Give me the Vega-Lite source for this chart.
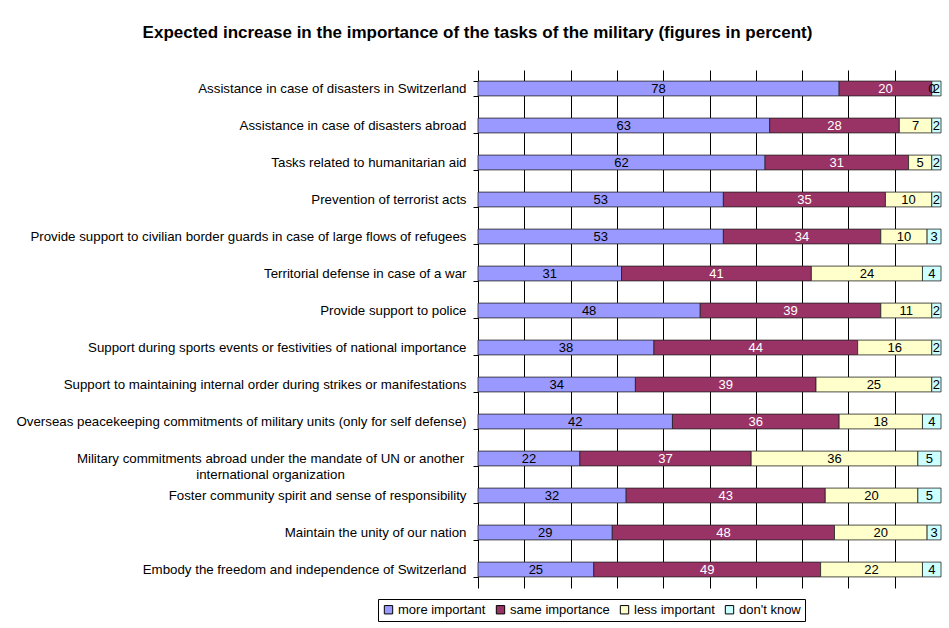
{
  "$schema": "https://vega.github.io/schema/vega-lite/v6.json",
  "width": 463,
  "height": 518,
  "autosize": {"type": "none"},
  "padding": {"left": 478, "top": 70, "right": 8, "bottom": 40},
  "background": "white",
  "title": {
    "text": "Expected increase in the importance of the tasks of the military (figures in percent)",
    "font": "Liberation Sans",
    "fontSize": 17,
    "fontWeight": "bold",
    "color": "black",
    "anchor": "middle",
    "dx": -232,
    "offset": 21
  },
  "config": {"view": {"stroke": null}, "font": "Liberation Sans"},
  "data": {
    "values": [
      {"task": "Assistance in case of disasters in Switzerland", "series": "more important", "rank": 1, "pct": 78},
      {"task": "Assistance in case of disasters in Switzerland", "series": "same importance", "rank": 2, "pct": 20},
      {"task": "Assistance in case of disasters in Switzerland", "series": "less important", "rank": 3, "pct": 0},
      {"task": "Assistance in case of disasters in Switzerland", "series": "don't know", "rank": 4, "pct": 2},
      {"task": "Assistance in case of disasters abroad", "series": "more important", "rank": 1, "pct": 63},
      {"task": "Assistance in case of disasters abroad", "series": "same importance", "rank": 2, "pct": 28},
      {"task": "Assistance in case of disasters abroad", "series": "less important", "rank": 3, "pct": 7},
      {"task": "Assistance in case of disasters abroad", "series": "don't know", "rank": 4, "pct": 2},
      {"task": "Tasks related to humanitarian aid", "series": "more important", "rank": 1, "pct": 62},
      {"task": "Tasks related to humanitarian aid", "series": "same importance", "rank": 2, "pct": 31},
      {"task": "Tasks related to humanitarian aid", "series": "less important", "rank": 3, "pct": 5},
      {"task": "Tasks related to humanitarian aid", "series": "don't know", "rank": 4, "pct": 2},
      {"task": "Prevention of terrorist acts", "series": "more important", "rank": 1, "pct": 53},
      {"task": "Prevention of terrorist acts", "series": "same importance", "rank": 2, "pct": 35},
      {"task": "Prevention of terrorist acts", "series": "less important", "rank": 3, "pct": 10},
      {"task": "Prevention of terrorist acts", "series": "don't know", "rank": 4, "pct": 2},
      {"task": "Provide support to civilian border guards in case of large flows of refugees", "series": "more important", "rank": 1, "pct": 53},
      {"task": "Provide support to civilian border guards in case of large flows of refugees", "series": "same importance", "rank": 2, "pct": 34},
      {"task": "Provide support to civilian border guards in case of large flows of refugees", "series": "less important", "rank": 3, "pct": 10},
      {"task": "Provide support to civilian border guards in case of large flows of refugees", "series": "don't know", "rank": 4, "pct": 3},
      {"task": "Territorial defense in case of a war", "series": "more important", "rank": 1, "pct": 31},
      {"task": "Territorial defense in case of a war", "series": "same importance", "rank": 2, "pct": 41},
      {"task": "Territorial defense in case of a war", "series": "less important", "rank": 3, "pct": 24},
      {"task": "Territorial defense in case of a war", "series": "don't know", "rank": 4, "pct": 4},
      {"task": "Provide support to police", "series": "more important", "rank": 1, "pct": 48},
      {"task": "Provide support to police", "series": "same importance", "rank": 2, "pct": 39},
      {"task": "Provide support to police", "series": "less important", "rank": 3, "pct": 11},
      {"task": "Provide support to police", "series": "don't know", "rank": 4, "pct": 2},
      {"task": "Support during sports events or festivities of national importance", "series": "more important", "rank": 1, "pct": 38},
      {"task": "Support during sports events or festivities of national importance", "series": "same importance", "rank": 2, "pct": 44},
      {"task": "Support during sports events or festivities of national importance", "series": "less important", "rank": 3, "pct": 16},
      {"task": "Support during sports events or festivities of national importance", "series": "don't know", "rank": 4, "pct": 2},
      {"task": "Support to maintaining internal order during strikes or manifestations", "series": "more important", "rank": 1, "pct": 34},
      {"task": "Support to maintaining internal order during strikes or manifestations", "series": "same importance", "rank": 2, "pct": 39},
      {"task": "Support to maintaining internal order during strikes or manifestations", "series": "less important", "rank": 3, "pct": 25},
      {"task": "Support to maintaining internal order during strikes or manifestations", "series": "don't know", "rank": 4, "pct": 2},
      {"task": "Overseas peacekeeping commitments of military units (only for self defense)", "series": "more important", "rank": 1, "pct": 42},
      {"task": "Overseas peacekeeping commitments of military units (only for self defense)", "series": "same importance", "rank": 2, "pct": 36},
      {"task": "Overseas peacekeeping commitments of military units (only for self defense)", "series": "less important", "rank": 3, "pct": 18},
      {"task": "Overseas peacekeeping commitments of military units (only for self defense)", "series": "don't know", "rank": 4, "pct": 4},
      {"task": "Military commitments abroad under the mandate of UN or another international organization", "series": "more important", "rank": 1, "pct": 22},
      {"task": "Military commitments abroad under the mandate of UN or another international organization", "series": "same importance", "rank": 2, "pct": 37},
      {"task": "Military commitments abroad under the mandate of UN or another international organization", "series": "less important", "rank": 3, "pct": 36},
      {"task": "Military commitments abroad under the mandate of UN or another international organization", "series": "don't know", "rank": 4, "pct": 5},
      {"task": "Foster community spirit and sense of responsibility", "series": "more important", "rank": 1, "pct": 32},
      {"task": "Foster community spirit and sense of responsibility", "series": "same importance", "rank": 2, "pct": 43},
      {"task": "Foster community spirit and sense of responsibility", "series": "less important", "rank": 3, "pct": 20},
      {"task": "Foster community spirit and sense of responsibility", "series": "don't know", "rank": 4, "pct": 5},
      {"task": "Maintain the unity of our nation", "series": "more important", "rank": 1, "pct": 29},
      {"task": "Maintain the unity of our nation", "series": "same importance", "rank": 2, "pct": 48},
      {"task": "Maintain the unity of our nation", "series": "less important", "rank": 3, "pct": 20},
      {"task": "Maintain the unity of our nation", "series": "don't know", "rank": 4, "pct": 3},
      {"task": "Embody the freedom and independence of Switzerland", "series": "more important", "rank": 1, "pct": 25},
      {"task": "Embody the freedom and independence of Switzerland", "series": "same importance", "rank": 2, "pct": 49},
      {"task": "Embody the freedom and independence of Switzerland", "series": "less important", "rank": 3, "pct": 22},
      {"task": "Embody the freedom and independence of Switzerland", "series": "don't know", "rank": 4, "pct": 4}
    ]
  },
  "encoding": {
    "y": {
      "field": "task",
      "type": "nominal",
      "sort": null,
      "scale": {"paddingInner": 0.6, "paddingOuter": 0.3},
      "axis": {
        "title": null,
        "domainColor": "black",
        "tickColor": "black",
        "tickSize": 5,
        "tickBand": "extent",
        "labelColor": "black",
        "labelFont": "Liberation Sans",
        "labelFontSize": 13.3,
        "labelLimit": 0,
        "labelLineHeight": 16,
        "labelPadding": {"condition": {"test": "datum.value == 'Military commitments abroad under the mandate of UN or another international organization'", "value": 203}, "value": 7},
        "labelAlign": {"condition": {"test": "datum.value == 'Military commitments abroad under the mandate of UN or another international organization'", "value": "center"}, "value": "right"},
        "labelExpr": "datum.label == 'Military commitments abroad under the mandate of UN or another international organization' ? ['Military commitments abroad under the mandate of UN or another', 'international organization'] : datum.label"
      }
    },
    "order": {"field": "rank", "type": "quantitative", "sort": "ascending"}
  },
  "layer": [
    {
      "mark": {"type": "bar", "stroke": "#222222", "strokeWidth": 0.8},
      "encoding": {
        "x": {
          "field": "pct",
          "type": "quantitative",
          "stack": "zero",
          "scale": {"domain": [0, 100], "nice": false},
          "axis": {
            "title": null,
            "labels": false,
            "ticks": false,
            "domain": false,
            "grid": true,
            "gridColor": "black",
            "gridWidth": 1,
            "values": [10, 20, 30, 40, 50, 60, 70, 80, 90]
          }
        },
        "color": {
          "field": "series",
          "type": "nominal",
          "sort": ["more important", "same importance", "less important", "don't know"],
          "scale": {
            "domain": ["more important", "same importance", "less important", "don't know"],
            "range": ["#9999FF", "#993366", "#FFFFCC", "#CCFFFF"]
          },
          "legend": {
            "title": null,
            "orient": "none",
            "legendX": -100,
            "legendY": 529,
            "direction": "horizontal",
            "symbolType": "square",
            "symbolSize": 70,
            "symbolStrokeColor": "black",
            "symbolStrokeWidth": 1,
            "labelFont": "Liberation Sans",
            "labelFontSize": 13,
            "labelColor": "black",
            "labelOffset": 3,
            "columnPadding": 8,
            "strokeColor": "black",
            "padding": 4
          }
        }
      }
    },
    {
      "mark": {"type": "text", "font": "Liberation Sans", "fontSize": 13},
      "encoding": {
        "x": {"field": "pct", "type": "quantitative", "stack": "zero", "bandPosition": 0.5},
        "text": {"field": "pct", "type": "quantitative"},
        "color": {
          "field": "series",
          "type": "nominal",
          "sort": ["more important", "same importance", "less important", "don't know"],
          "scale": {
            "domain": ["more important", "same importance", "less important", "don't know"],
            "range": ["black", "white", "black", "black"]
          },
          "legend": null
        }
      }
    }
  ],
  "resolve": {"scale": {"color": "independent"}}
}
